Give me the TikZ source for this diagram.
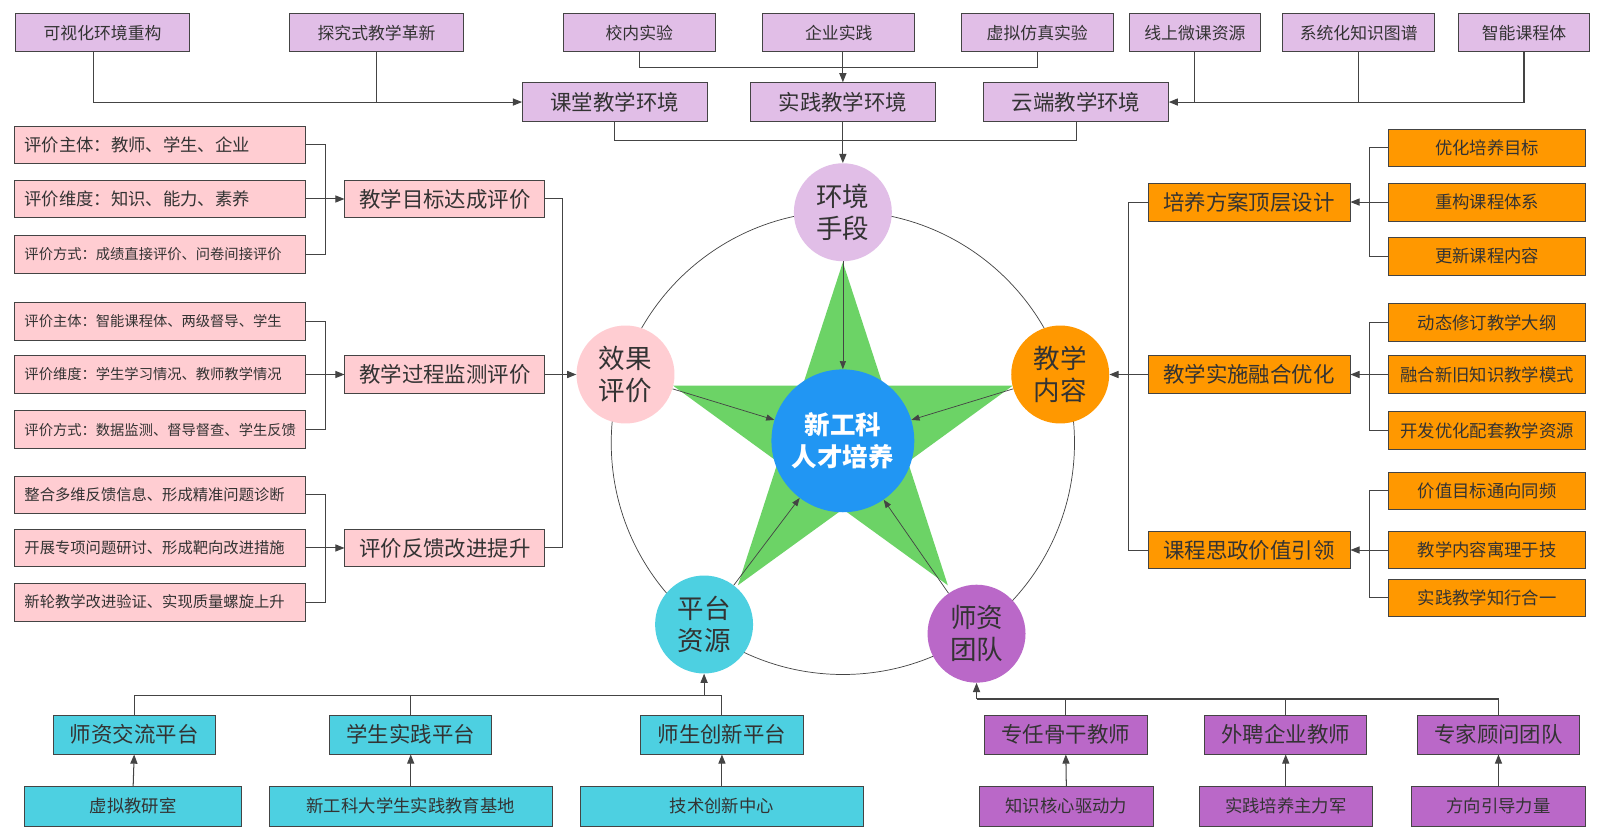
\documentclass[tikz,border=0pt]{standalone}
\usepackage{fontspec}
\setmainfont{Noto Sans CJK SC}
\usetikzlibrary{arrows.meta}

\definecolor{lpurple}{HTML}{E1BEE7}
\definecolor{lpink}{HTML}{FFCDD2}
\definecolor{orng}{HTML}{FF9800}
\definecolor{cyn}{HTML}{4DD0E1}
\definecolor{purp}{HTML}{BA68C8}
\definecolor{blu}{HTML}{2196F3}
\definecolor{grn}{HTML}{6CD366}
\definecolor{ln}{HTML}{444444}
\definecolor{txt}{HTML}{333333}

\tikzset{
  >={Triangle[length=9pt,width=7pt]},
  box/.style={draw=ln, line width=0.8pt, inner sep=0pt, minimum height=37pt, text=txt},
  wd/.style={minimum width=#1},
  fs/.style={font=\fontsize{#1}{#1}\selectfont},
  leaf/.style={box, fill=lpink, inner xsep=10pt, text width=265pt, align=left},
  ball/.style={circle, minimum size=96pt, inner sep=0pt, align=center, text=txt,
    font=\fontsize{26}{31}\selectfont},
  conn/.style={draw=ln, line width=1pt},
  thinconn/.style={draw=ln, line width=0.7pt, >={Triangle[length=8pt,width=6pt]}}
}

\begin{document}
\begin{tikzpicture}[x=1pt, y=-1pt]
        \useasboundingbox[fill=white] (0,0) rectangle (1568,820);

        % Ring and star
        \draw[ln, line width=0.7pt] (826,434) circle [radius=227pt];
        \coordinate (O) at (826,432);
        \fill[grn] (O) +(-90:175) -- +(-54:67) -- +(-18:175) -- +(18:67) -- +(54:175)
            -- +(90:67) -- +(126:175) -- +(162:67) -- +(198:175) -- +(234:67) -- cycle;

        % Nodes (circles)
        \node[ball, fill=lpurple] (env) at (826,208) {环境\\手段};
        \node[ball, fill=lpink] (eval) at (613,367) {效果\\评价};
        \node[ball, fill=orng] (cont) at (1039,367) {教学\\内容};
        \node[ball, fill=cyn] (plat) at (690,612) {平台\\资源};
        \node[ball, fill=purp] (team) at (957,621) {师资\\团队};
        \node[ball, minimum size=140pt, fill=blu, text=white,
            font=\bfseries\fontsize{25}{31}\selectfont] (core) at (826,432) {新工科\\人才培养};

        % Nodes (top)
        \node[box, fill=lpurple, wd=171pt, fs=16.5] (S1) at (100.5,32) {可视化环境重构};
        \node[box, fill=lpurple, wd=170pt, fs=16.5] (S2) at (369,32) {探究式教学革新};
        \node[box, fill=lpurple, wd=149pt, fs=16.5] (S3) at (626.5,32) {校内实验};
        \node[box, fill=lpurple, wd=149pt, fs=16.5] (S4) at (822,32) {企业实践};
        \node[box, fill=lpurple, wd=149pt, fs=16.5] (S5) at (1016.5,32) {虚拟仿真实验};
        \node[box, fill=lpurple, wd=128pt, fs=16.5] (S6) at (1171,32) {线上微课资源};
        \node[box, fill=lpurple, wd=149pt, fs=16.5] (S7) at (1331.5,32) {系统化知识图谱};
        \node[box, fill=lpurple, wd=129pt, fs=16.5] (S8) at (1493.5,32) {智能课程体};
        \node[box, fill=lpurple, wd=181pt, minimum height=38pt, fs=21] (C1) at (602.5,100) {课堂教学环境};
        \node[box, fill=lpurple, wd=181pt, minimum height=38pt, fs=21] (C2) at (826,100) {实践教学环境};
        \node[box, fill=lpurple, wd=181pt, minimum height=38pt, fs=21] (C3) at (1054.5,100) {云端教学环境};

        % Nodes (left)
        \node[leaf, fs=17] (a1) at (156.5,142) {评价主体：教师、学生、企业};
        \node[leaf, fs=17] (a2) at (156.5,195) {评价维度：知识、能力、素养};
        \node[leaf, fs=14] (a3) at (156.5,249) {评价方式：成绩直接评价、问卷间接评价};
        \node[leaf, fs=14] (a4) at (156.5,315) {评价主体：智能课程体、两级督导、学生};
        \node[leaf, fs=14] (a5) at (156.5,367) {评价维度：学生学习情况、教师教学情况};
        \node[leaf, fs=14] (a6) at (156.5,421) {评价方式：数据监测、督导督查、学生反馈};
        \node[leaf, fs=15] (a7) at (156.5,485) {整合多维反馈信息、形成精准问题诊断};
        \node[leaf, fs=15] (a8) at (156.5,537) {开展专项问题研讨、形成靶向改进措施};
        \node[leaf, fs=15] (a9) at (156.5,590) {新轮教学改进验证、实现质量螺旋上升};
        \node[box, fill=lpink, wd=196pt, fs=21] (A1) at (436,195) {教学目标达成评价};
        \node[box, fill=lpink, wd=196pt, fs=21] (A2) at (436,367) {教学过程监测评价};
        \node[box, fill=lpink, wd=196pt, fs=21] (A3) at (436,537) {评价反馈改进提升};

        % Nodes (right)
        \node[box, fill=orng, wd=198pt, fs=21] (B1) at (1224,198) {培养方案顶层设计};
        \node[box, fill=orng, wd=198pt, fs=21] (B2) at (1224,367) {教学实施融合优化};
        \node[box, fill=orng, wd=198pt, fs=21] (B3) at (1224,539) {课程思政价值引领};
        \node[box, fill=orng, wd=193pt, fs=17] (b1) at (1457.5,145) {优化培养目标};
        \node[box, fill=orng, wd=193pt, fs=17] (b2) at (1457.5,198) {重构课程体系};
        \node[box, fill=orng, wd=193pt, fs=17] (b3) at (1457.5,251) {更新课程内容};
        \node[box, fill=orng, wd=193pt, fs=17] (b4) at (1457.5,316) {动态修订教学大纲};
        \node[box, fill=orng, wd=193pt, fs=17] (b5) at (1457.5,367) {融合新旧知识教学模式};
        \node[box, fill=orng, wd=193pt, fs=17] (b6) at (1457.5,422) {开发优化配套教学资源};
        \node[box, fill=orng, wd=193pt, fs=17] (b7) at (1457.5,481) {价值目标通向同频};
        \node[box, fill=orng, wd=193pt, fs=17] (b8) at (1457.5,539) {教学内容寓理于技};
        \node[box, fill=orng, wd=193pt, fs=17] (b9) at (1457.5,586) {实践教学知行合一};

        % Nodes (bottom)
        \node[box, fill=cyn, wd=159pt, minimum height=38pt, fs=21] (P1) at (131.5,720) {师资交流平台};
        \node[box, fill=cyn, wd=159pt, minimum height=38pt, fs=21] (P2) at (402.5,720) {学生实践平台};
        \node[box, fill=cyn, wd=159pt, minimum height=38pt, fs=21] (P3) at (707.5,720) {师生创新平台};
        \node[box, fill=cyn, wd=213pt, minimum height=39pt, fs=17] (q1) at (130.5,790) {虚拟教研室};
        \node[box, fill=cyn, wd=277pt, minimum height=39pt, fs=17] (q2) at (402.5,790) {新工科大学生实践教育基地};
        \node[box, fill=cyn, wd=277pt, minimum height=39pt, fs=17] (q3) at (707.5,790) {技术创新中心};
        \node[box, fill=purp, wd=159pt, minimum height=38pt, fs=21] (T1) at (1044.5,720) {专任骨干教师};
        \node[box, fill=purp, wd=159pt, minimum height=38pt, fs=21] (T2) at (1260,720) {外聘企业教师};
        \node[box, fill=purp, wd=159pt, minimum height=38pt, fs=21] (T3) at (1468.5,720) {专家顾问团队};
        \node[box, fill=purp, wd=170pt, minimum height=39pt, fs=17] (t1) at (1045,790) {知识核心驱动力};
        \node[box, fill=purp, wd=170pt, minimum height=39pt, fs=17] (t2) at (1260,790) {实践培养主力军};
        \node[box, fill=purp, wd=170pt, minimum height=39pt, fs=17] (t3) at (1468.5,790) {方向引导力量};

        % Junctions
        \coordinate (jt) at (826,66);
        \coordinate (jb) at (826,138);
        \coordinate (ja1) at (319,195);
        \coordinate (ja2) at (319,367);
        \coordinate (ja3) at (319,537);
        \coordinate (jl) at (551,367);
        \coordinate (jr1) at (1342,198);
        \coordinate (jr2) at (1342,367);
        \coordinate (jr3) at (1342,539);
        \coordinate (jR) at (1106,367);
        \coordinate (jp) at (690,682);
        \coordinate (jq) at (957,685);

        % Edges (top)
        \draw[conn, ->] ([xshift=-9pt]S1.south) |- (C1.west);
        \draw[conn] (S2.south) -- (S2.south |- C1.west);
        \draw[conn] (S3.south) |- (jt) -| (S5.south);
        \draw[conn, ->] (S4.south -| jt) -- (C2.north);
        \draw[conn, ->] (S8.south) |- (C3.east);
        \draw[conn] (S6.south) -- (S6.south |- C3.east);
        \draw[conn] (S7.south) -- (S7.south |- C3.east);
        \draw[conn] (C1.south) |- (jb) -| (C3.south);
        \draw[conn, ->] (C2.south) -- (env.north);

        % Edges (left)
        \draw[conn] (a1.east) -| (ja1) |- (a3.east);
        \draw[conn, ->] (a2.east) -- (A1.west);
        \draw[conn] (a4.east) -| (ja2) |- (a6.east);
        \draw[conn, ->] (a5.east) -- (A2.west);
        \draw[conn] (a7.east) -| (ja3) |- (a9.east);
        \draw[conn, ->] (a8.east) -- (A3.west);
        \draw[conn] (A1.east) -| (jl) |- (A3.east);
        \draw[conn, ->] (A2.east) -- (eval);

        % Edges (right)
        \draw[conn] (b1.west) -| (jr1) |- (b3.west);
        \draw[conn, ->] (b2.west) -- (B1.east);
        \draw[conn] (b4.west) -| (jr2) |- (b6.west);
        \draw[conn, ->] (b5.west) -- (B2.east);
        \draw[conn] (b7.west) -| (jr3) |- (b9.west);
        \draw[conn, ->] (b8.west) -- (B3.east);
        \draw[conn] (B1.west) -| (jR) |- (B3.west);
        \draw[conn, ->] (B2.west) -- (cont);

        % Edges (bottom)
        \draw[conn] (P1.north) |- (P3.north |- jp) -- (P3.north);
        \draw[conn] (P2.north) -- (P2.north |- jp);
        \draw[conn, ->] (jp) -- (plat);
        \draw[conn, ->] (q1.north) -- (P1.south);
        \draw[conn, ->] (q2.north) -- (P2.south);
        \draw[conn, ->] (q3.north) -- (P3.south);
        \draw[conn] (jq) -| (T3.north);
        \draw[conn] (T1.north) -- (T1.north |- jq);
        \draw[conn] (T2.north) -- (T2.north |- jq);
        \draw[conn, ->] (jq) -- (team);
        \draw[conn, ->] (t1.north) -- (T1.south);
        \draw[conn, ->] (t2.north) -- (T2.south);
        \draw[conn, ->] (t3.north) -- (T3.south);

        % Edges (centre)
        \draw[thinconn, ->] (env) -- (core);
        \draw[thinconn, ->] (eval) -- (core);
        \draw[thinconn, ->] (cont) -- (core);
        \draw[thinconn, ->] (plat) -- (core);
        \draw[thinconn, ->] (team) -- (core);
    \end{tikzpicture}
\end{document}
